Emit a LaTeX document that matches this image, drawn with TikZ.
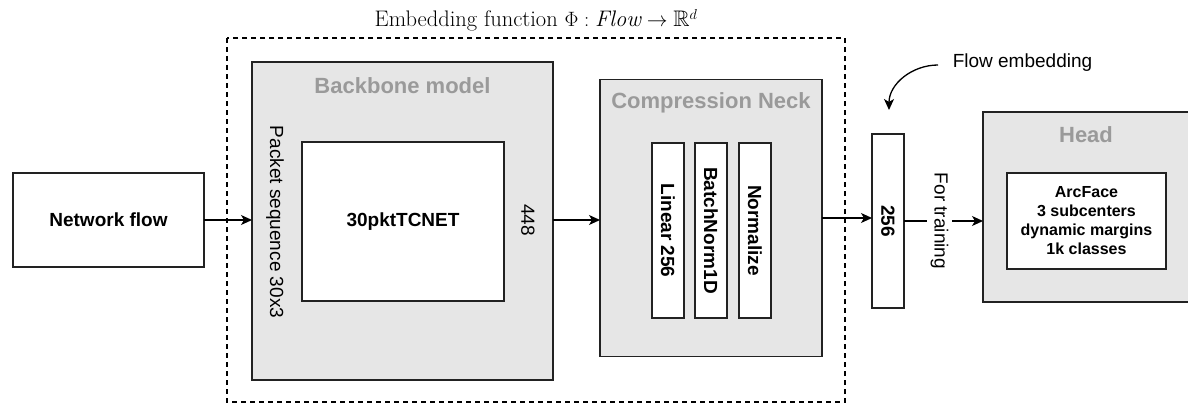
\documentclass[tikz,border=0pt]{standalone}
\usepackage{amssymb}
\usepackage{fontspec}
\newfontfamily\labelfont{Liberation Sans}
\usetikzlibrary{arrows.meta}
\definecolor{panelfill}{HTML}{E6E6E6}
\definecolor{paneltext}{HTML}{9A9A9A}
\definecolor{edge}{HTML}{222222}
\begin{document}
\begin{tikzpicture}[x=1pt,y=-1pt,
  every node/.style={inner sep=0pt, outer sep=0pt},
  whitebox/.style={draw=edge, line width=1.3pt, fill=white, minimum width=#1},
  panel/.style={draw=edge, line width=1.3pt, fill=panelfill},
  paneltitle/.style={font=\labelfont\bfseries\fontsize{22}{26}\selectfont, text=paneltext},
  boldlabel/.style={font=\labelfont\bfseries\fontsize{19}{19}\selectfont},
  plainlabel/.style={font=\labelfont\fontsize{19}{19}\selectfont},
  flowarrow/.style={draw=black, line width=1.3pt, -{Stealth[length=11pt,width=10pt,inset=3pt]}}
]
\useasboundingbox (0,0) rectangle (1188,404);

% title and dashed frame of the embedding function
\node[anchor=base, font=\fontsize{22.5}{26}\selectfont] (title) at (536,27)
  {Embedding function $\Phi : \mathit{Flow} \rightarrow \mathbb{R}^d$};
\draw[line width=1.2pt, dash pattern=on 5pt off 4pt] (227,38) rectangle (845,402);

% input
\node[whitebox=191pt, minimum height=94pt, boldlabel] (netflow) at (108.5,220) {Network flow};

% backbone
\node[panel, minimum width=301pt, minimum height=318pt] (backbone) at (402.5,221) {};
\node[paneltitle] (bbtitle) at (402.5,86) {Backbone model};
\node[whitebox=202pt, minimum height=159pt, boldlabel] (tcnet) at (403,221.5) {30pktTCNET};
\node[plainlabel, rotate=-90] (pktseq) at (275,222) {Packet sequence 30x3};
\node[plainlabel, rotate=-90] (dim448) at (528,220) {448};

% compression neck
\node[panel, minimum width=222pt, minimum height=277pt] (neck) at (711,218) {};
\node[paneltitle] (necktitle) at (711,103) {Compression Neck};
\node[whitebox=32pt, minimum height=175pt] (linear) at (668,230.5) {};
\node[whitebox=32pt, minimum height=175pt] (bnorm) at (711,230.5) {};
\node[whitebox=32pt, minimum height=175pt] (normal) at (755,230.5) {};
\node[boldlabel, rotate=-90] at (linear.center) {Linear 256};
\node[boldlabel, rotate=-90] at (bnorm.center) {BatchNorm1D};
\node[boldlabel, rotate=-90] at (normal.center) {Normalize};

% embedding vector
\node[whitebox=32pt, minimum height=174pt] (emb) at (888,221) {};
\node[boldlabel, rotate=-90] at (emb.center) {256};

% head
\node[panel, minimum width=206pt, minimum height=190pt] (head) at (1086,207) {};
\node[paneltitle] (headtitle) at (1086,135) {Head};
\node[whitebox=159pt, minimum height=96pt, boldlabel, align=center,
      font=\labelfont\bfseries\fontsize{16}{19}\selectfont] (arcface) at (1086.5,221)
  {ArcFace\\3 subcenters\\dynamic margins\\1k classes};

% flow embedding callout
\node[plainlabel] (femb) at (1022.5,63) {Flow embedding};
\coordinate (fstart) at (938,65);
\coordinate (ftip) at (889,110);
\draw[flowarrow] (fstart) to[out=180,in=90] (ftip);

% connectors
\draw[flowarrow] (netflow.east) -- (netflow.east -| backbone.west);
\draw[flowarrow] (backbone.east |- dim448) -- (dim448 -| neck.west);
\draw[flowarrow] (neck.east) -- (neck.east -| emb.west);
\draw[flowarrow] (emb.east) -- (emb.east -| head.west)
  node[pos=0.45, fill=white, inner xsep=2pt, inner ysep=4pt, plainlabel, rotate=-90] (train) {For training};
\end{tikzpicture}
\end{document}
